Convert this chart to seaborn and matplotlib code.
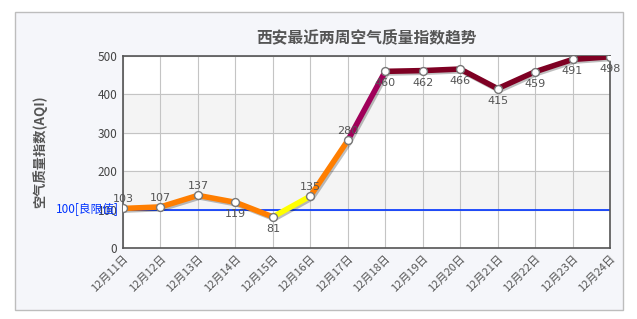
import matplotlib
matplotlib.use("Agg")
import matplotlib.pyplot as plt
import matplotlib.patheffects as pe
from matplotlib.patches import Rectangle
import seaborn as sns
import pandas as pd

dates = ["12月11日", "12月12日", "12月13日", "12月14日", "12月15日", "12月16日", "12月17日",
         "12月18日", "12月19日", "12月20日", "12月21日", "12月22日", "12月23日", "12月24日"]
aqi = [103, 107, 137, 119, 81, 135, 280, 460, 462, 466, 415, 459, 491, 498]
title = "西安最近两周空气质量指数趋势"
ylabel = "空气质量指数(AQI)"
limit_value = 100
limit_label = "100[良限值]"
yticks = [0, 100, 200, 300, 400, 500]

sns.set_style("white")
plt.rcParams['font.family'] = ['Noto Sans CJK SC', 'DejaVu Sans']

def aqi_color(v):
    if v <= 50:
        return "#00E400"
    if v <= 100:
        return "#FFFF00"
    if v <= 150:
        return "#FF7E00"
    if v <= 200:
        return "#FF0000"
    if v <= 300:
        return "#A0005A"
    return "#7E0023"

df = pd.DataFrame({"x": range(len(aqi)), "aqi": aqi})

fig = plt.figure(figsize=(6.37, 3.19), dpi=100)
fig.patch.set_facecolor("white")
fig.patches.append(Rectangle((15 / 637, 1 - 310 / 319), 608 / 637, 298 / 319,
                             transform=fig.transFigure, facecolor="#f5f6fa",
                             edgecolor="#bdbdbd", linewidth=1, zorder=-10))
ax = fig.add_axes([123 / 637, 1 - 248 / 319, 487 / 637, 192 / 319])
ax.set_zorder(5)
ax.set_facecolor("white")

for lo in (100, 300):
    ax.axhspan(lo, lo + 100, color="#f4f4f4", zorder=0)

shadow = [pe.SimpleLineShadow(offset=(1.2, -1.2), alpha=0.25, shadow_color="black"), pe.Normal()]
for i in range(len(aqi) - 1):
    seg = df.iloc[i:i + 2]
    sns.lineplot(data=seg, x="x", y="aqi", ax=ax, color=aqi_color(aqi[i]), linewidth=4,
                 zorder=3, path_effects=shadow, legend=False)

ax.axhline(limit_value, color="#0033ff", linewidth=1.2, zorder=2)

sns.scatterplot(data=df, x="x", y="aqi", ax=ax, s=32, color="white", edgecolor="#777777",
                linewidth=1, zorder=5, legend=False)

below = {3, 4, 7, 8, 9, 10, 11, 12, 13}
for i, v in enumerate(aqi):
    if i in below:
        ax.annotate(str(v), (i, v), xytext=(0, -5), textcoords="offset points",
                    ha="center", va="top", fontsize=8, color="#555555", zorder=6,
                    family=['DejaVu Sans'])
    else:
        ax.annotate(str(v), (i, v), xytext=(0, 3), textcoords="offset points",
                    ha="center", va="bottom", fontsize=8, color="#555555", zorder=6,
                    family=['DejaVu Sans'])

ax.text(-0.009, limit_value, limit_label, transform=ax.get_yaxis_transform(),
        ha="right", va="center", color="#0033ff", fontsize=8.5, zorder=7)

ax.set_xlim(0, len(aqi) - 1)
ax.set_ylim(0, 500)
ax.set_xticks(range(len(dates)))
ax.set_xticklabels(dates, rotation=45, ha="right", rotation_mode="anchor",
                   fontsize=8, color="#555555")
ax.set_yticks(yticks)
ax.set_yticklabels([str(t) for t in yticks], fontsize=8.5, color="#444444")
ax.tick_params(axis="both", length=0, pad=4)
ax.grid(True, color="#c4c4c4", linewidth=0.8, zorder=1)
ax.set_axisbelow(True)
for s in ax.spines.values():
    s.set_color("#555555")
    s.set_linewidth(1.2)
ax.set_xlabel("")
ax.set_ylabel(ylabel, fontsize=9.5, color="#555555", fontweight="bold", labelpad=36)

fig.text(366 / 637, 1 - 37 / 319, title, ha="center", va="center", fontsize=11.3,
         fontweight="bold", color="#555555")

fig.savefig("out.png", dpi=100)
